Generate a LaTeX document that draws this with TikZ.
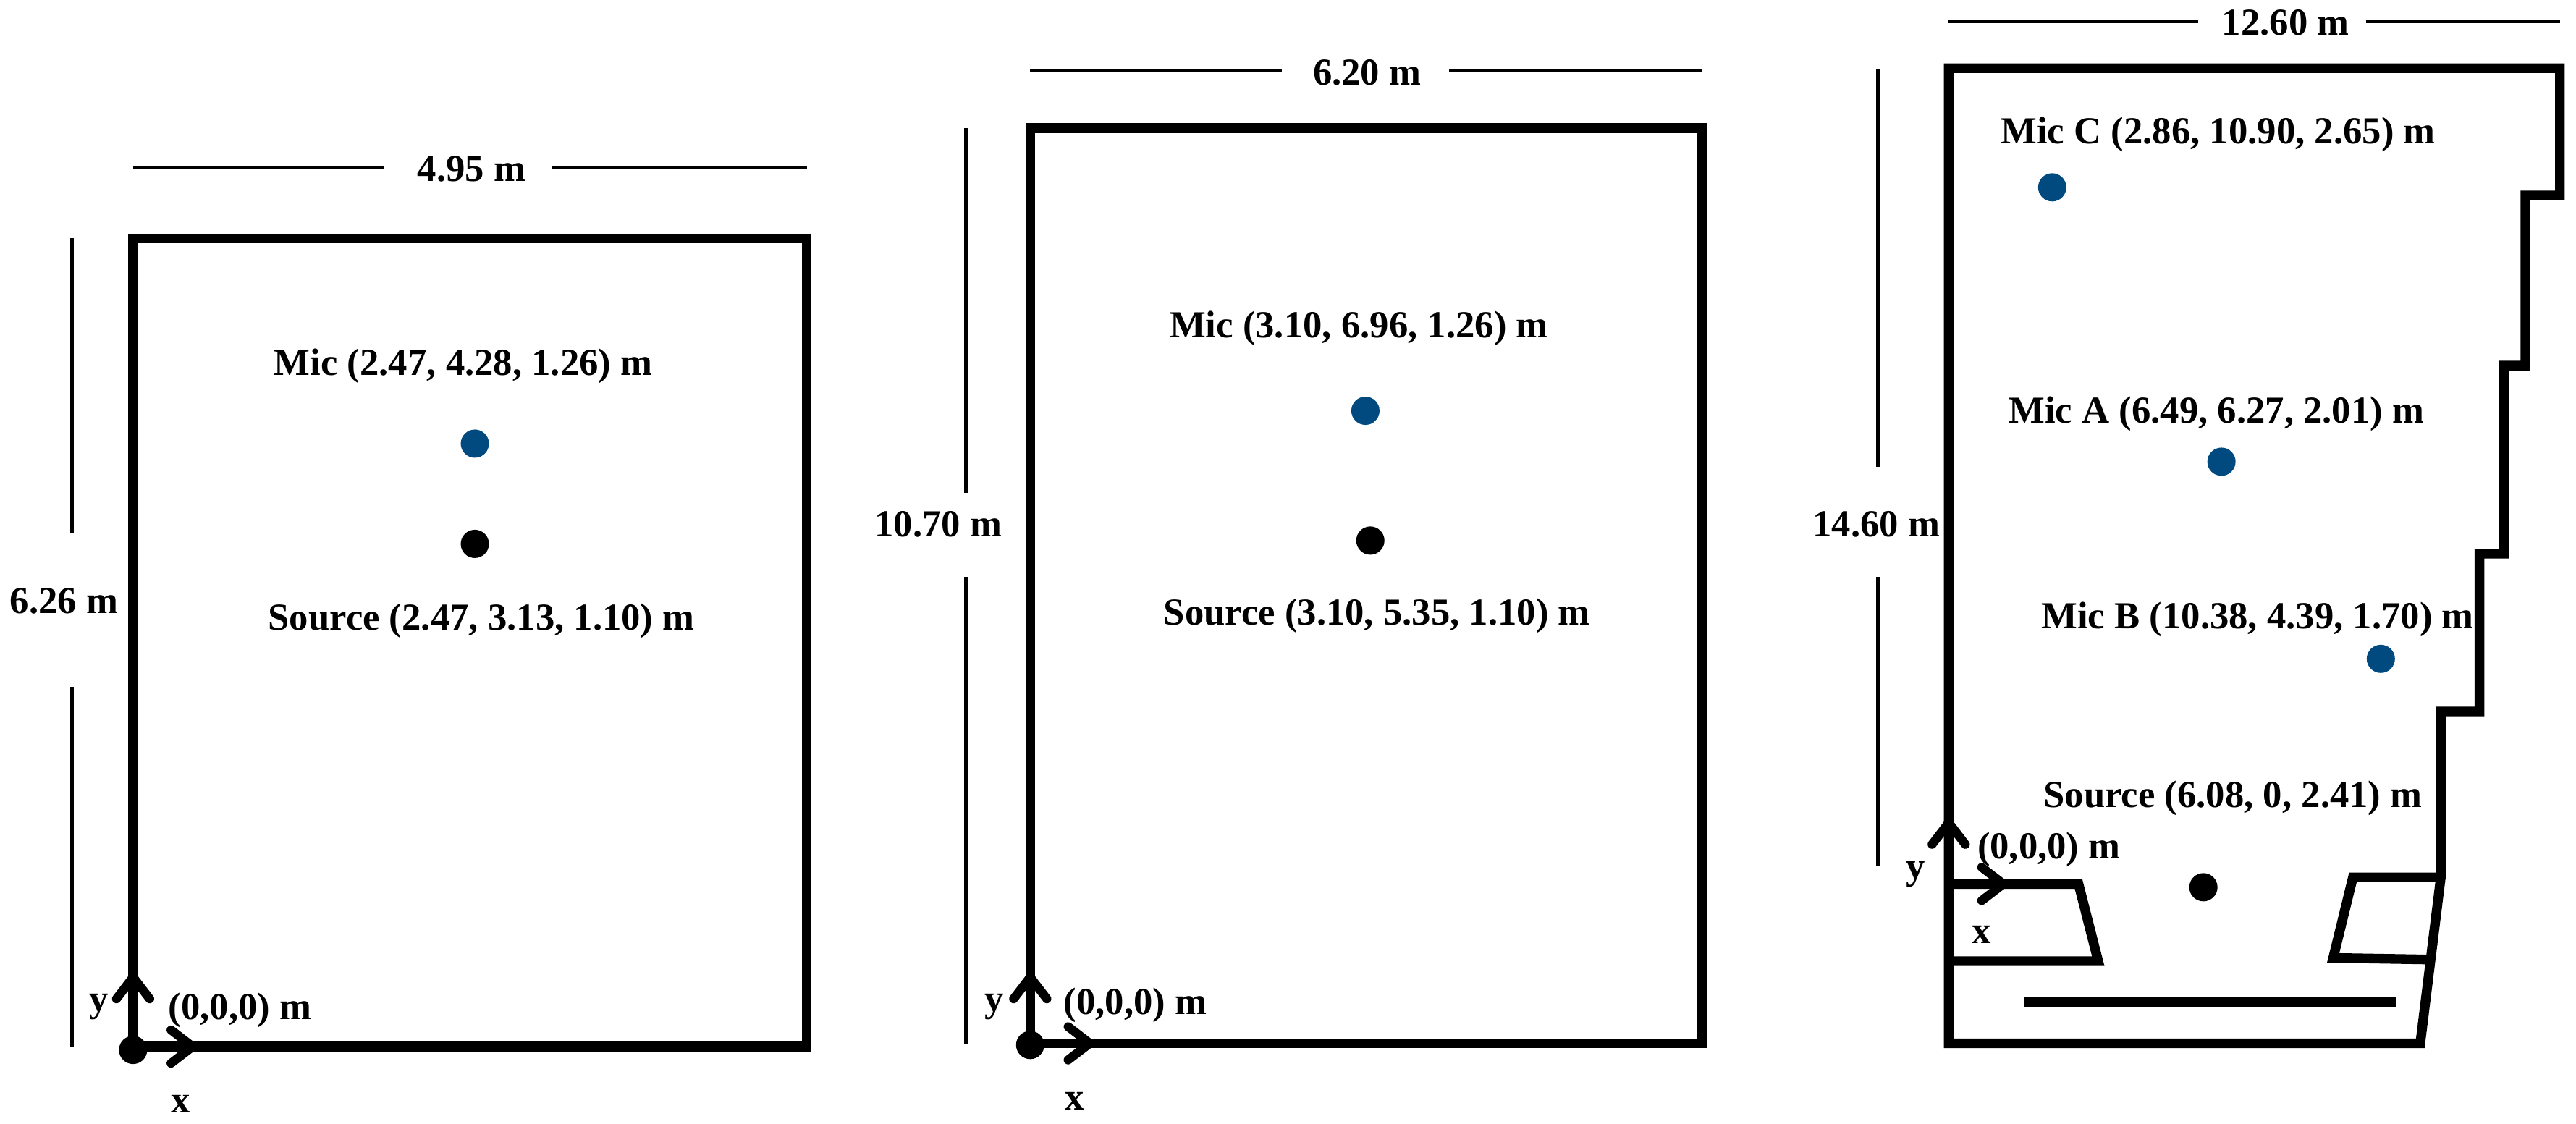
\documentclass[tikz,border=0pt]{standalone}
\usepackage{fontspec}
\setmainfont{Liberation Serif}
\usetikzlibrary{arrows.meta}
\definecolor{micblue}{HTML}{004A80}
\tikzset{
  wall/.style={line width=3.8pt, line join=miter},
  dimline/.style={line width=1.4pt},
  axis/.style={line width=3.5pt, -{Straight Barb[length=0.3cm,width=0.46cm,round]}},
  tag/.style={font=\fontsize{15}{17}\selectfont\bfseries, inner sep=0pt},
  micdot/.style={circle, fill=micblue, inner sep=0pt, minimum size=0.39cm},
  srcdot/.style={circle, fill=black, inner sep=0pt, minimum size=0.39cm}
}
\begin{document}
\begin{tikzpicture}[x=0.0227cm,y=-0.0227cm]
  \useasboundingbox (0,0) rectangle (1567.8,684.1);
  % first room
  \draw[wall] (81,145) rectangle (491,637);
  \draw
    (81,102) coordinate (wa1)
    (234,102) coordinate (wa2)
    (336,102) coordinate (wa3)
    (491,102) coordinate (wa4)
    (44,145) coordinate (ha1)
    (44,324) coordinate (ha2)
    (44,418) coordinate (ha3)
    (44,637) coordinate (ha4)
    (81,637) coordinate (oa);
  \draw[dimline] (wa1) -- (wa2);
  \draw[dimline] (wa3) -- (wa4);
  \draw[dimline] (ha1) -- (ha2);
  \draw[dimline] (ha3) -- (ha4);
  \draw
    (287,103) node[tag] (widtha){4.95 m}
    (39,366) node[tag] (heighta){6.26 m}
    (282,223) node[tag] (labmica){Mic (2.47, 4.28, 1.26) m}
    (293,378) node[tag] (labsrca){Source (2.47, 3.13, 1.10) m}
    (146,615) node[tag] (labzeroa){(0,0,0) m}
    (60,613) node[tag] (laby1){y}
    (110,672) node[tag] (labx1){x}
    (289,270) node[micdot] (mica){}
    (289,331) node[srcdot] (srca){}
    (81,639) node[srcdot] (zeroa){}
    (81,592) coordinate (ya)
    (120,637) coordinate (xa);
  \draw[axis] (oa) -- (ya);
  \draw[axis] (oa) -- (xa);
  % second room
  \draw[wall] (627,78) rectangle (1036,635);
  \draw
    (627,43) coordinate (wb1)
    (780,43) coordinate (wb2)
    (882,43) coordinate (wb3)
    (1036,43) coordinate (wb4)
    (588,78) coordinate (hb1)
    (588,300) coordinate (hb2)
    (588,351) coordinate (hb3)
    (588,635) coordinate (hb4)
    (627,635) coordinate (ob);
  \draw[dimline] (wb1) -- (wb2);
  \draw[dimline] (wb3) -- (wb4);
  \draw[dimline] (hb1) -- (hb2);
  \draw[dimline] (hb3) -- (hb4);
  \draw
    (832,44) node[tag] (widthb){6.20 m}
    (571,319) node[tag] (heightb){10.70 m}
    (827,200) node[tag] (labmicb){Mic (3.10, 6.96, 1.26) m}
    (838,375) node[tag] (labsrcb){Source (3.10, 5.35, 1.10) m}
    (691,612) node[tag] (labzerob){(0,0,0) m}
    (605,613) node[tag] (laby2){y}
    (654,670) node[tag] (labx2){x}
    (831,250) node[micdot] (micb){}
    (834,329) node[srcdot] (srcb){}
    (627,636) node[srcdot] (zerob){}
    (627,592) coordinate (yb)
    (666,635) coordinate (xb);
  \draw[axis] (ob) -- (yb);
  \draw[axis] (ob) -- (xb);
  % third room
  \draw[wall] (1186,41.5) -- (1558,41.5) -- (1558,119) -- (1537,119) -- (1537,222.5)
    -- (1524,222.5) -- (1524,337) -- (1509,337) -- (1509,433) -- (1485.5,433)
    -- (1485.5,534) -- (1473,635) -- (1186,635) -- cycle;
  \draw[wall] (1186,538) -- (1265,538) -- (1277,585) -- (1186,585);
  \draw[wall] (1485.5,534) -- (1432,534) -- (1420,583) -- (1479,584);
  \draw[wall] (1232,610) -- (1458,610);
  \draw
    (1186,13.2) coordinate (wc1)
    (1338,13.2) coordinate (wc2)
    (1440,13.2) coordinate (wc3)
    (1558,13.2) coordinate (wc4)
    (1143,42) coordinate (hc1)
    (1143,284) coordinate (hc2)
    (1143,351) coordinate (hc3)
    (1143,527) coordinate (hc4)
    (1186,538) coordinate (oc);
  \draw[dimline] (wc1) -- (wc2);
  \draw[dimline] (wc3) -- (wc4);
  \draw[dimline] (hc1) -- (hc2);
  \draw[dimline] (hc3) -- (hc4);
  \draw
    (1391,14) node[tag] (widthc){12.60 m}
    (1142,319) node[tag] (heightc){14.60 m}
    (1350,82) node[tag] (labmicc){Mic C (2.86, 10.90, 2.65) m}
    (1349,252) node[tag] (labmicd){Mic A (6.49, 6.27, 2.01) m}
    (1374,377) node[tag] (labmice){Mic B (10.38, 4.39, 1.70) m}
    (1359,486) node[tag] (labsrcc){Source (6.08, 0, 2.41) m}
    (1247,517) node[tag] (labzeroc){(0,0,0) m}
    (1166,532) node[tag] (laby3){y}
    (1206,569) node[tag] (labx3){x}
    (1249,114) node[micdot] (micc){}
    (1352,281) node[micdot] (micd){}
    (1449,401) node[micdot] (mice){}
    (1341,540) node[srcdot] (srcc){}
    (1186,498) coordinate (yc)
    (1222,538) coordinate (xc);
  \draw[axis] (oc) -- (yc);
  \draw[axis] (oc) -- (xc);
\end{tikzpicture}
\end{document}
